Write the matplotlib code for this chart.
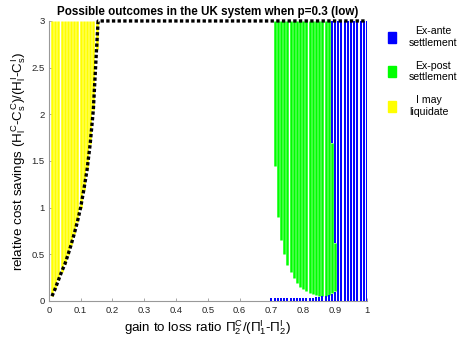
import matplotlib
import matplotlib.pyplot as plt
from matplotlib.patches import Patch

matplotlib.use("Agg")

plt.rcParams["font.family"] = ["Liberation Sans", "DejaVu Sans"]
plt.rcParams["mathtext.fontset"] = "custom"
plt.rcParams["mathtext.rm"] = "Liberation Sans"
plt.rcParams["mathtext.it"] = "Liberation Sans"
plt.rcParams["mathtext.cal"] = "Liberation Serif"

# Threshold curve below which I may liquidate (then flat at the top of the grid)
bound_x = [0.01, 0.02, 0.03, 0.04, 0.05, 0.06, 0.07, 0.08, 0.09, 0.10,
           0.11, 0.12, 0.13, 0.14, 0.15, 0.155, 1.00]
bound_y = [0.05, 0.13, 0.22, 0.31, 0.39, 0.49, 0.60, 0.72, 0.85, 1.00,
           1.19, 1.40, 1.68, 2.05, 2.70, 3.00, 3.00]

# I may liquidate: columns above the threshold
yellow_x = [0.01, 0.02, 0.03, 0.04, 0.05, 0.06, 0.07, 0.08, 0.09, 0.10,
            0.11, 0.12, 0.13, 0.14, 0.15]
yellow_lo = [0.05, 0.13, 0.22, 0.31, 0.39, 0.49, 0.60, 0.72, 0.85, 1.00,
             1.19, 1.40, 1.68, 2.05, 2.70]

# Ex-post settlement
green_x = [0.71, 0.72, 0.73, 0.74, 0.75, 0.76, 0.77, 0.78, 0.79, 0.80,
           0.81, 0.82, 0.83, 0.84, 0.85, 0.86, 0.87, 0.88, 0.89, 0.90]
green_lo = [1.44, 0.90, 0.65, 0.50, 0.38, 0.31, 0.24, 0.19, 0.15, 0.125,
            0.10, 0.085, 0.07, 0.06, 0.055, 0.052, 0.055, 0.065, 0.08, 0.10]
green_hi = [3.0] * 18 + [1.69, 0.62]

# Ex-ante settlement, upper part of the grid
blue_x = [0.89, 0.90, 0.91, 0.92, 0.93, 0.94, 0.95, 0.96, 0.97, 0.98, 0.99, 1.00]
blue_lo = [1.69, 0.62, 0, 0, 0, 0, 0, 0, 0, 0, 0, 0]
blue_hi = [3.0] * 12

# Ex-ante settlement, thin strip along the bottom
blue_low_x = [0.70, 0.71, 0.72, 0.73, 0.74, 0.75, 0.76, 0.77, 0.78, 0.79, 0.80,
              0.81, 0.82, 0.83, 0.84, 0.85, 0.86, 0.87, 0.88, 0.89, 0.90]
blue_low_hi = [0.025, 0.025, 0.025, 0.025, 0.025, 0.025, 0.025, 0.025, 0.025, 0.025, 0.025,
               0.03, 0.03, 0.035, 0.04, 0.045, 0.048, 0.05, 0.06, 0.075, 0.095]

BLUE = "#0000ff"
GREEN = "#00ff00"
YELLOW = "#ffff00"

fig = plt.figure(figsize=(4.65, 3.38), dpi=100)
ax = fig.add_axes([0.105, 0.110, 0.684, 0.828])


def columns(xs, lo, hi, color, lw=1.8):
    ax.vlines(xs, lo, hi, colors=color, linewidth=lw, zorder=3)


columns(yellow_x, yellow_lo, [3.0] * len(yellow_x), YELLOW)
columns(green_x, green_lo, green_hi, GREEN)
columns(blue_x, blue_lo, blue_hi, BLUE, lw=1.4)
columns(blue_low_x, [0] * len(blue_low_x), blue_low_hi, BLUE, lw=1.4)

ax.plot(bound_x, bound_y, color="black", linestyle=(0, (1, 0.7)), linewidth=2.4,
        zorder=4, clip_on=False)

ax.set_xlim(0, 1)
ax.set_ylim(0, 3)
ax.set_xticks([0, 0.1, 0.2, 0.3, 0.4, 0.5, 0.6, 0.7, 0.8, 0.9, 1])
ax.set_xticklabels(["0", "0.1", "0.2", "0.3", "0.4", "0.5", "0.6", "0.7", "0.8", "0.9", "1"])
ax.set_yticks([0, 0.5, 1, 1.5, 2, 2.5, 3])
ax.set_yticklabels(["0", "0.5", "1", "1.5", "2", "2.5", "3"])
ax.tick_params(direction="in", length=2.5, width=0.6, colors="#999999",
               labelcolor="#262626", labelsize=6.8, pad=4)
ax.tick_params(axis="y", pad=3)
for side in ["top", "right"]:
    ax.spines[side].set_visible(False)
for side in ["left", "bottom"]:
    ax.spines[side].set_color("#999999")
    ax.spines[side].set_linewidth(0.8)

ax.set_title("Possible outcomes in the UK system when p=0.3 (low)",
             fontsize=8.4, fontweight="bold", pad=4)
ax.set_xlabel(r"gain to loss ratio $\Pi_2^C/(\Pi_1^I$-$\Pi_2^I)$", fontsize=9.6, labelpad=2)
ax.set_ylabel(r"relative cost savings $(H_l^C$-$C_s^C)/(H_l^I$-$C_s^I)$", fontsize=9.6)
ax.yaxis.set_label_coords(-0.066, 0.5)

handles = [Patch(facecolor=BLUE, edgecolor=BLUE),
           Patch(facecolor=GREEN, edgecolor=GREEN),
           Patch(facecolor=YELLOW, edgecolor=YELLOW)]
labels = ["Ex-ante\nsettlement", "Ex-post\nsettlement", "I may\nliquidate"]
leg = fig.legend(handles, labels, loc="upper left", bbox_to_anchor=(0.815, 0.95),
                 frameon=False, fontsize=7.6, handlelength=0.75, handleheight=1.2,
                 handletextpad=1.2, labelspacing=1.2)
for t in leg.get_texts():
    t.set_multialignment("center")

fig.savefig("out.png", dpi=100)
